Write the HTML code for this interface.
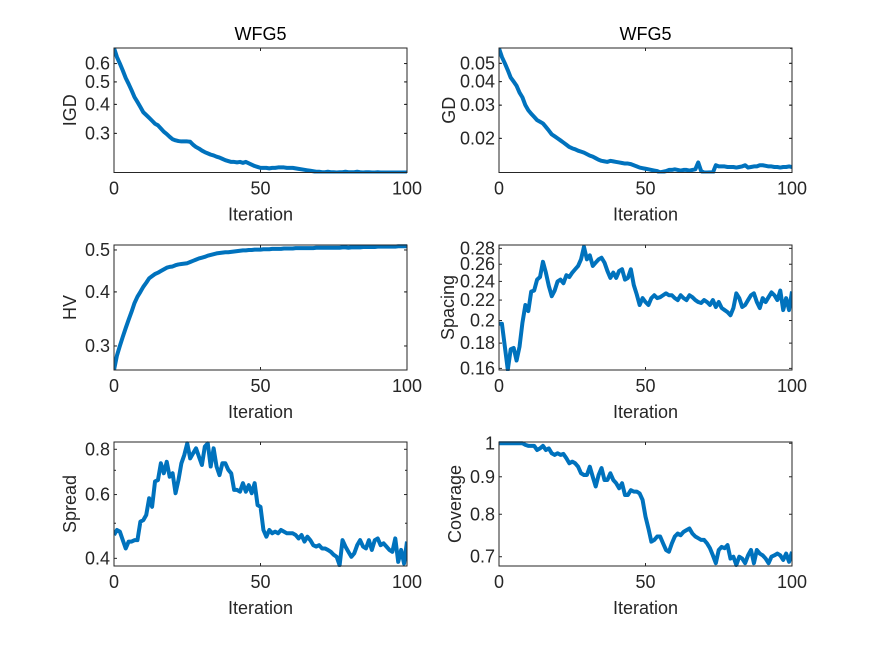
<!DOCTYPE html>
<html><head><meta charset="utf-8">
<style>
html,body{margin:0;padding:0;background:#fff;}
svg{display:block;font-family:"Liberation Sans",Arial,sans-serif;}
</style></head>
<body>
<svg id="fig" width="875" height="656" viewBox="0 0 875 656" xmlns="http://www.w3.org/2000/svg"></svg>
<script>
const iterations = Array.from({length:101},(_,i)=>i);
const xTicks = [0,50,100];

const igdValues = [0.70,0.64,0.60,0.56,0.52,0.49,0.46,0.43,0.41,0.39,0.37,0.36,0.35,0.34,0.33,0.325,0.315,0.305,0.298,0.29,0.283,0.28,0.278,0.277,0.277,0.277,0.276,0.268,0.262,0.258,0.253,0.249,0.246,0.243,0.241,0.238,0.236,0.233,0.230,0.228,0.226,0.226,0.225,0.226,0.224,0.226,0.223,0.220,0.217,0.215,0.213,0.213,0.213,0.212,0.213,0.213,0.214,0.214,0.214,0.213,0.213,0.213,0.212,0.211,0.210,0.209,0.208,0.207,0.206,0.205,0.205,0.204,0.204,0.205,0.204,0.204,0.203,0.204,0.204,0.205,0.204,0.204,0.204,0.205,0.204,0.203,0.204,0.204,0.203,0.203,0.204,0.203,0.203,0.203,0.202,0.202,0.203,0.202,0.202,0.202,0.203];
const igdTicks = [0.3,0.4,0.5,0.6];

const gdValues = [0.060,0.054,0.050,0.046,0.042,0.040,0.038,0.035,0.033,0.030,0.0282,0.027,0.026,0.025,0.0245,0.024,0.023,0.022,0.021,0.0205,0.020,0.0195,0.019,0.0185,0.018,0.0177,0.0175,0.0172,0.017,0.0168,0.0165,0.0162,0.016,0.0157,0.0154,0.0152,0.0151,0.015,0.0152,0.0151,0.015,0.0149,0.0148,0.0147,0.0147,0.0146,0.0144,0.0142,0.014,0.0139,0.0138,0.0137,0.0136,0.0135,0.0134,0.0132,0.0133,0.0134,0.0136,0.0136,0.0137,0.0136,0.0135,0.0136,0.0136,0.0135,0.0136,0.0137,0.0149,0.0134,0.0131,0.0131,0.0132,0.0131,0.0144,0.0142,0.0142,0.0142,0.0141,0.0141,0.0141,0.014,0.0141,0.0142,0.0144,0.014,0.0141,0.0142,0.0142,0.0144,0.0144,0.0143,0.0142,0.0142,0.0141,0.0141,0.014,0.0141,0.0141,0.0142,0.0141];
const gdTicks = [0.02,0.03,0.04,0.05];

const hvValues = [0.264,0.285,0.30,0.315,0.33,0.345,0.36,0.377,0.39,0.40,0.411,0.42,0.43,0.435,0.44,0.443,0.447,0.451,0.455,0.457,0.458,0.461,0.463,0.464,0.465,0.466,0.469,0.472,0.475,0.478,0.480,0.482,0.485,0.487,0.489,0.491,0.492,0.493,0.494,0.494,0.495,0.496,0.497,0.498,0.499,0.499,0.500,0.500,0.501,0.501,0.501,0.502,0.502,0.502,0.503,0.503,0.503,0.503,0.504,0.504,0.504,0.504,0.505,0.505,0.505,0.505,0.505,0.505,0.505,0.506,0.506,0.506,0.506,0.506,0.506,0.506,0.506,0.506,0.507,0.507,0.506,0.507,0.507,0.507,0.507,0.508,0.508,0.508,0.508,0.508,0.509,0.509,0.509,0.509,0.509,0.509,0.509,0.510,0.510,0.510,0.510];
const hvTicks = [0.3,0.4,0.5];

const spacingValues = [0.197,0.197,0.177,0.159,0.175,0.176,0.166,0.177,0.198,0.215,0.209,0.229,0.230,0.242,0.245,0.263,0.250,0.235,0.224,0.230,0.240,0.242,0.238,0.247,0.245,0.250,0.254,0.258,0.266,0.282,0.266,0.271,0.258,0.262,0.266,0.268,0.262,0.252,0.244,0.250,0.244,0.252,0.254,0.242,0.244,0.254,0.236,0.226,0.215,0.222,0.218,0.215,0.222,0.225,0.222,0.223,0.225,0.227,0.225,0.225,0.222,0.220,0.225,0.222,0.220,0.225,0.223,0.220,0.218,0.217,0.220,0.218,0.215,0.220,0.213,0.218,0.212,0.210,0.208,0.205,0.212,0.227,0.222,0.213,0.215,0.220,0.225,0.227,0.218,0.212,0.222,0.218,0.223,0.228,0.225,0.220,0.230,0.210,0.222,0.210,0.229];
const spacingTicks = [0.16,0.18,0.2,0.22,0.24,0.26,0.28];
const spacingTickLabels = ['0.16','0.18','0.2','0.22','0.24','0.26','0.28'];

const spreadValues = [0.464,0.479,0.474,0.449,0.426,0.445,0.445,0.449,0.449,0.505,0.510,0.527,0.586,0.555,0.652,0.658,0.732,0.687,0.739,0.672,0.687,0.605,0.658,0.732,0.772,0.831,0.755,0.780,0.805,0.763,0.724,0.814,0.831,0.717,0.805,0.717,0.679,0.732,0.732,0.702,0.687,0.618,0.618,0.611,0.645,0.611,0.637,0.605,0.645,0.561,0.555,0.479,0.459,0.479,0.469,0.474,0.469,0.479,0.474,0.469,0.469,0.469,0.464,0.454,0.464,0.445,0.459,0.449,0.435,0.431,0.435,0.426,0.426,0.422,0.417,0.409,0.404,0.383,0.449,0.431,0.417,0.404,0.413,0.435,0.449,0.431,0.426,0.449,0.422,0.449,0.454,0.435,0.440,0.431,0.422,0.417,0.454,0.391,0.422,0.387,0.445];
const spreadTicks = [0.4,0.6,0.8];

const coverageValues = [1.0,1.0,1.0,1.0,1.0,1.0,1.0,1.0,1.0,0.995,0.992,0.992,0.992,0.979,0.984,0.992,0.979,0.984,0.969,0.964,0.969,0.964,0.967,0.954,0.939,0.944,0.939,0.929,0.910,0.905,0.905,0.929,0.900,0.873,0.905,0.925,0.891,0.891,0.910,0.891,0.882,0.868,0.882,0.850,0.850,0.863,0.859,0.859,0.854,0.837,0.794,0.765,0.734,0.738,0.746,0.746,0.730,0.715,0.711,0.730,0.746,0.753,0.749,0.757,0.761,0.765,0.753,0.746,0.742,0.738,0.738,0.730,0.719,0.703,0.686,0.715,0.722,0.719,0.726,0.696,0.700,0.682,0.700,0.696,0.686,0.703,0.715,0.686,0.715,0.707,0.703,0.696,0.686,0.700,0.703,0.707,0.703,0.693,0.707,0.689,0.711];
const coverageTicks = [0.7,0.8,0.9,1];

const NS='http://www.w3.org/2000/svg';
const svg=document.getElementById('fig');
function mk(tag,attrs,parent){const e=document.createElementNS(NS,tag);for(const k in attrs)e.setAttribute(k,attrs[k]);(parent||svg).appendChild(e);return e;}

const panels=[
 {key:'igd',label:'IGD',title:'WFG5',vals:igdValues,ticks:igdTicks,labels:null,ymin:0.2035,ymax:0.70,x0:114,x1:407,y0:48,y1:172.5,minor:[0.3,0.4,0.5,0.6,0.7],lo:38},
 {key:'gd',label:'GD',title:'WFG5',vals:gdValues,ticks:gdTicks,labels:null,ymin:0.01318,ymax:0.0603,x0:499,x1:792,y0:48,y1:172.5,minor:[0.02,0.03,0.04,0.05,0.06],lo:44},
 {key:'hv',label:'HV',title:null,vals:hvValues,ticks:hvTicks,labels:null,ymin:0.264,ymax:0.5134,x0:114,x1:407,y0:245,y1:370,minor:[0.3,0.4,0.5],lo:38},
 {key:'spacing',label:'Spacing',title:null,vals:spacingValues,ticks:spacingTicks,labels:spacingTickLabels,ymin:0.1588,ymax:0.2844,x0:499,x1:792,y0:245,y1:370,minor:[],lo:45},
 {key:'spread',label:'Spread',title:null,vals:spreadValues,ticks:spreadTicks,labels:null,ymin:0.381,ymax:0.838,x0:114,x1:407,y0:442,y1:566,minor:[0.5,0.7],lo:38},
 {key:'coverage',label:'Coverage',title:null,vals:coverageValues,ticks:coverageTicks,labels:null,ymin:0.6799,ymax:1.004,x0:499,x1:792,y0:442,y1:566,minor:[],lo:38}
];

panels.forEach(p=>{
  const g=mk('g',{});
  
  
  const xs=v=>p.x0+(v-0)/(100-0)*(p.x1-p.x0);
  const ys=v=>p.y1-(Math.log10(v)-Math.log10(p.ymin))/(Math.log10(p.ymax)-Math.log10(p.ymin))*(p.y1-p.y0);
  xTicks.forEach(t=>{
    const x=xs(t);
    const a=mk('line',{x1:x,x2:x,y1:p.y1,y2:p.y1-3,stroke:'#262626','stroke-width':1},g);
    
    mk('line',{x1:x,x2:x,y1:p.y0,y2:p.y0+3,stroke:'#262626','stroke-width':1},g);
    const tx=mk('text',{x:x,y:p.y1+22,'text-anchor':'middle','font-size':18,fill:'#262626'},g);
    tx.textContent=String(t);
    
  });
  p.minor.forEach(t=>{
    if(t<p.ymin||t>p.ymax)return;
    const y=ys(t);
    mk('line',{x1:p.x0,x2:p.x0+2,y1:y,y2:y,stroke:'#262626','stroke-width':1},g);
    mk('line',{x1:p.x1,x2:p.x1-2,y1:y,y2:y,stroke:'#262626','stroke-width':1},g);
  });
  p.ticks.forEach((t,i)=>{
    const y=ys(t);
    const a=mk('line',{x1:p.x0,x2:p.x0+3,y1:y,y2:y,stroke:'#262626','stroke-width':1},g);
    
    mk('line',{x1:p.x1,x2:p.x1-3,y1:y,y2:y,stroke:'#262626','stroke-width':1},g);
    const tx=mk('text',{x:p.x0-4,y:y+6,'text-anchor':'end','font-size':18,fill:'#262626'},g);
    tx.textContent=p.labels?p.labels[i]:String(t);
    
  });
  const d=p.vals.map((v,i)=>(i?'L':'M')+xs(iterations[i]).toFixed(2)+','+ys(Math.min(Math.max(v,p.ymin),p.ymax)).toFixed(2)).join(' ');
  const cp=mk('clipPath',{id:'clip-'+p.key},g);
  mk('rect',{x:p.x0,y:p.y0-1,width:p.x1-p.x0,height:p.y1-p.y0+2},cp);
  const path=mk('path',{d:d,fill:'none',stroke:'#0072BD','stroke-width':4,'stroke-linejoin':'round','clip-path':'url(#clip-'+p.key+')'},g);
  
  
  const box=mk('rect',{x:p.x0,y:p.y0,width:p.x1-p.x0,height:p.y1-p.y0,fill:'none',stroke:'#262626','stroke-width':1},g);
  
  const xl=mk('text',{x:(p.x0+p.x1)/2,y:p.y1+48,'text-anchor':'middle','font-size':18,fill:'#262626'},g);
  xl.textContent='Iteration';
  
  const cy=(p.y0+p.y1)/2;
  const lx=p.x0-p.lo;
  const yl=mk('text',{x:lx,y:cy,'text-anchor':'middle','font-size':18,fill:'#262626',transform:'rotate(-90 '+lx+' '+cy+')'},g);
  yl.textContent=p.label;
  
  if(p.title){
    const tt=mk('text',{x:(p.x0+p.x1)/2,y:p.y0-8,'text-anchor':'middle','font-size':18,fill:'#000'},g);
    tt.textContent=p.title;
    
  }
});
</script>
</body></html>
